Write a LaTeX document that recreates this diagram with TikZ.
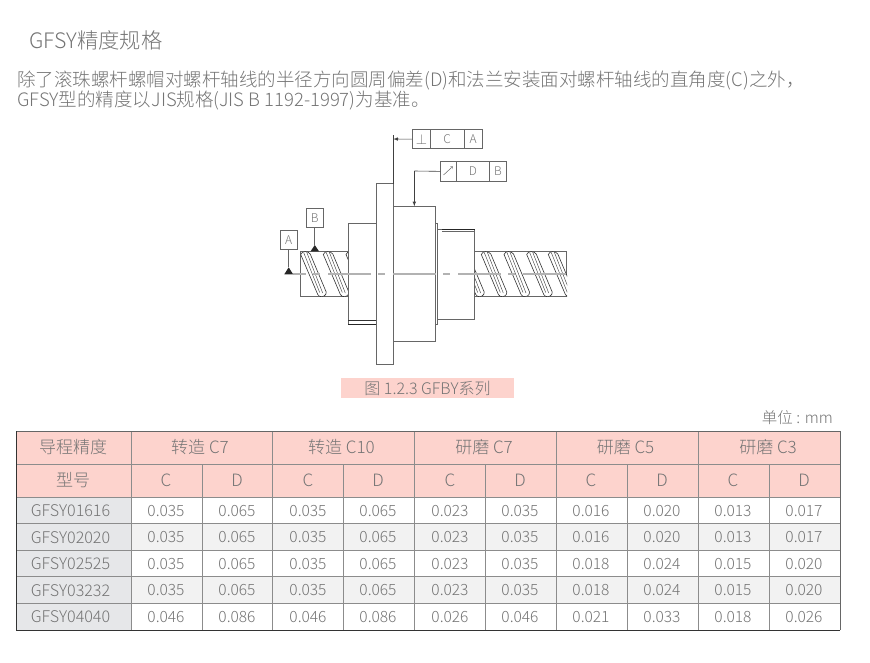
\documentclass[tikz,border=0pt]{standalone}
\usepackage{fontspec}
\setmainfont[UprightFont={* Light},BoldFont={*}]{Noto Sans CJK SC}
\definecolor{txtgray}{HTML}{747474}
\definecolor{headpink}{HTML}{FDD3CD}
\definecolor{idgray}{HTML}{E6E7E9}
\definecolor{rowgray}{HTML}{F2F2F2}
\definecolor{gridgray}{HTML}{8C8C8C}
\definecolor{partgray}{HTML}{666666}
\tikzset{
  txt/.style={inner sep=0pt,text=txtgray,font=\fontsize{#1}{#1}\selectfont},
  txt/.default=16,
  part/.style={draw=partgray,line width=0.8pt},
  threadline/.style={draw=black!80,line width=0.6pt},
  frametxt/.style={inner sep=0pt,text=txtgray,font=\fontsize{12}{12}\selectfont},
  framebox/.style={draw=partgray,line width=0.7pt,inner sep=0pt,frametxt},
  datum/.style={fill=black!85,draw=none},
  leader/.style={draw=black!75,line width=0.6pt},
}
% one turn of the screw thread, #1 = left end of its crest
\newcommand{\threadturn}[1]{
  \fill[white] (#1,254.5) .. controls (#1+1.5,250.6) and (#1+7,250.6) .. (#1+9.5,254)
    -- (#1+25.5,292) .. controls (#1+26,295.5) and (#1+22,297.4) .. (#1+19,296.4)
    .. controls (#1+17.5,295.5) and (#1+16.5,294) .. (#1+16,292) -- cycle;
  \draw[threadline] (#1,254.5) .. controls (#1+1.5,250.6) and (#1+7,250.6) .. (#1+9.5,254)
    -- (#1+25.5,292) .. controls (#1+26,295.5) and (#1+22,297.4) .. (#1+19,296.4)
    .. controls (#1+17.5,295.5) and (#1+16.5,294) .. (#1+16,292) -- cycle;
  \draw[threadline,line width=0.4pt] (#1+3,252.6) -- (#1+19,292.5);
  \draw[threadline,line width=0.4pt] (#1+6,252.2) -- (#1+22,293);
}
\begin{document}
\begin{tikzpicture}[x=1pt,y=-1pt]
  \useasboundingbox (0,0) rectangle (870,662);
  % heading
  \node[txt=21.3,anchor=west] (heading) at (29,40) {GFSY精度规格};
  \node[txt=18.5,anchor=west] (intro1) at (17,81) {除了滚珠螺杆螺帽对螺杆轴线的半径方向圆周偏差(D)和法兰安装面对螺杆轴线的直角度(C)之外，};
  \node[txt=18.5,anchor=west] (intro2) at (17,101) {GFSY型的精度以JIS规格(JIS B 1192-1997)为基准。};
  % screw shaft
  \draw[part] (300.7,251.3) rectangle (348.3,296.3);
  \draw[part] (474.7,251.3) -- (566.7,251.3) -- (566.7,296.3) -- (474.7,296.3);
  \begin{scope}
    \clip (300.3,249) rectangle (348.3,298.5);
    \foreach \tx in {300.7,323.3,346} {\threadturn{\tx}}
  \end{scope}
  \begin{scope}
    \clip (474.7,249) rectangle (567,298.5);
    \foreach \tx in {458.7,481.3,504,526.7,548.3} {\threadturn{\tx}}
  \end{scope}
  % nut and flange
  \draw[part,fill=white] (348.3,223.3) rectangle (376.3,324);
  \draw[part,black!80] (348.3,320.3) -- (376.3,320.3);
  \draw[part,black!85] (348.3,324) -- (376.3,324);
  \draw[part,fill=white] (376.3,183.7) rectangle (393.3,364);
  \draw[part,fill=white] (393.3,206.3) rectangle (435.3,341.3);
  \draw[part,fill=white] (435.3,223.3) rectangle (437.7,324);
  \draw[part,fill=white] (437.7,229) rectangle (474.7,319);
  \draw[part,black!85] (442,229) -- (474.7,229);
  \draw[part] (442,231.7) -- (474.7,231.7);
  % centre line
  \draw[draw=black!30,line width=1.7pt,dash pattern=on 43pt off 7pt on 7pt off 8pt,dash phase=30pt] (293,273.7) -- (572,273.7);
  % feature control frames
  \node[framebox,minimum width=18pt,minimum height=19pt,anchor=north west,font=\fontsize{14}{14}\selectfont] (perp) at (412,129.3) {$\perp$};
  \node[framebox,minimum width=33.7pt,minimum height=19pt,anchor=north west] (perpC) at (430,129.3) {C};
  \node[framebox,minimum width=18pt,minimum height=19pt,anchor=north west] (perpA) at (463.7,129.3) {A};
  \node[framebox,minimum width=15.4pt,minimum height=19.4pt,anchor=north west] (runout) at (440.3,161.3) {};
  \node[framebox,minimum width=33.6pt,minimum height=19.4pt,anchor=north west] (runoutD) at (455.7,161.3) {D};
  \node[framebox,minimum width=16.7pt,minimum height=19.4pt,anchor=north west] (runoutB) at (489.3,161.3) {B};
  \coordinate (arrowfoot) at (443.5,175);
  \coordinate (arrowhead) at (452.7,166.5);
  \draw[->,draw=partgray,line width=0.5pt] (arrowfoot) -- (arrowhead);
  \coordinate (flangetop) at (393.3,183.7);
  \coordinate (flangestub) at (393.3,135);
  \coordinate (flangehit) at (393.3,139);
  \coordinate (nuthit) at (414.3,206.3);
  \coordinate (nutbend) at (414.3,171);
  \draw[leader] (flangestub) -- (flangetop);
  \draw[leader,-latex] (perp.west) -- (flangehit);
  \draw[leader] (runout.west) -- (nutbend);
  \draw[leader,-latex] (nutbend) -- (nuthit);
  % datum marks
  \node[framebox,minimum width=17pt,minimum height=19pt] (datumB) at (314.8,217.8) {B};
  \node[framebox,minimum width=17pt,minimum height=19pt] (datumA) at (288.7,239.8) {A};
  \coordinate (datumBtip) at (314.8,245);
  \coordinate (datumAtip) at (288.7,267.3);
  \draw[part] (datumB) -- (datumBtip);
  \draw[part] (datumA) -- (datumAtip);
  \fill[datum] (datumBtip) -- ++(4.2,6.3) -- ++(-8.4,0) -- cycle;
  \fill[datum] (datumAtip) -- ++(4.4,7) -- ++(-8.8,0) -- cycle;
  % caption
  \node[fill=headpink,minimum width=173pt,minimum height=20pt,inner sep=0pt,txt=16] (caption) at (427.5,388) {图 1.2.3 GFBY系列};
  \node[txt=15.5,anchor=east] (unit) at (833,418) {单位 : mm};
  % table fills
  \fill[headpink] (16,431) rectangle (840,497);
  \fill[idgray] (16,497) rectangle (131,630);
  \fill[rowgray] (131,523) rectangle (840,550);
  \fill[rowgray] (131,576) rectangle (840,603);
  % table lines
  \foreach \ly in {464,497,523,550,576,603}
    \draw[gridgray,line width=0.7pt] (16,\ly) -- (840,\ly);
  \foreach \lx in {131,272,414,556,698}
    \draw[gridgray,line width=0.8pt] (\lx,431) -- (\lx,630);
  \foreach \lx in {202,343,485,627,769}
    \draw[gridgray,line width=0.8pt] (\lx,464) -- (\lx,630);
  \draw[black!60,line width=1pt] (16,431) -- (840,431) -- (840,630);
  \draw[black!80,line width=1pt] (840,630) -- (16,630) -- (16,431);
  % table header
  \node[txt=17] (headpitch) at (73,447.5) {导程精度};
  \node[txt=17] (headtype) at (73,480.5) {型号};
  \foreach \hx/\hname in {200/转造 C7,341.5/转造 C10,484/研磨 C7,625.5/研磨 C5,768/研磨 C3}
    \node[txt=17] at (\hx,447.5) {\hname};
  \foreach \hx in {166,308,450,591,733}
    \node[txt=17] at (\hx,480.5) {C};
  \foreach \hx in {237,378,520,662,804}
    \node[txt=17] at (\hx,480.5) {D};
  % table rows
  \foreach \ry/\rtype/\va/\vb/\vc/\vd/\ve/\vf/\vg/\vh in {
    511/GFSY01616/0.035/0.065/0.023/0.035/0.016/0.020/0.013/0.017,
    537.5/GFSY02020/0.035/0.065/0.023/0.035/0.016/0.020/0.013/0.017,
    564/GFSY02525/0.035/0.065/0.023/0.035/0.018/0.024/0.015/0.020,
    590.5/GFSY03232/0.035/0.065/0.023/0.035/0.018/0.024/0.015/0.020,
    617/GFSY04040/0.046/0.086/0.026/0.046/0.021/0.033/0.018/0.026} {
    \node[txt=16.1] at (70.5,\ry) {\rtype};
    \node[txt=15.5] at (166,\ry) {\va};
    \node[txt=15.5] at (237,\ry) {\vb};
    \node[txt=15.5] at (308,\ry) {\va};
    \node[txt=15.5] at (378,\ry) {\vb};
    \node[txt=15.5] at (450,\ry) {\vc};
    \node[txt=15.5] at (520,\ry) {\vd};
    \node[txt=15.5] at (591,\ry) {\ve};
    \node[txt=15.5] at (662,\ry) {\vf};
    \node[txt=15.5] at (733,\ry) {\vg};
    \node[txt=15.5] at (804,\ry) {\vh};
  }
\end{tikzpicture}
\end{document}
